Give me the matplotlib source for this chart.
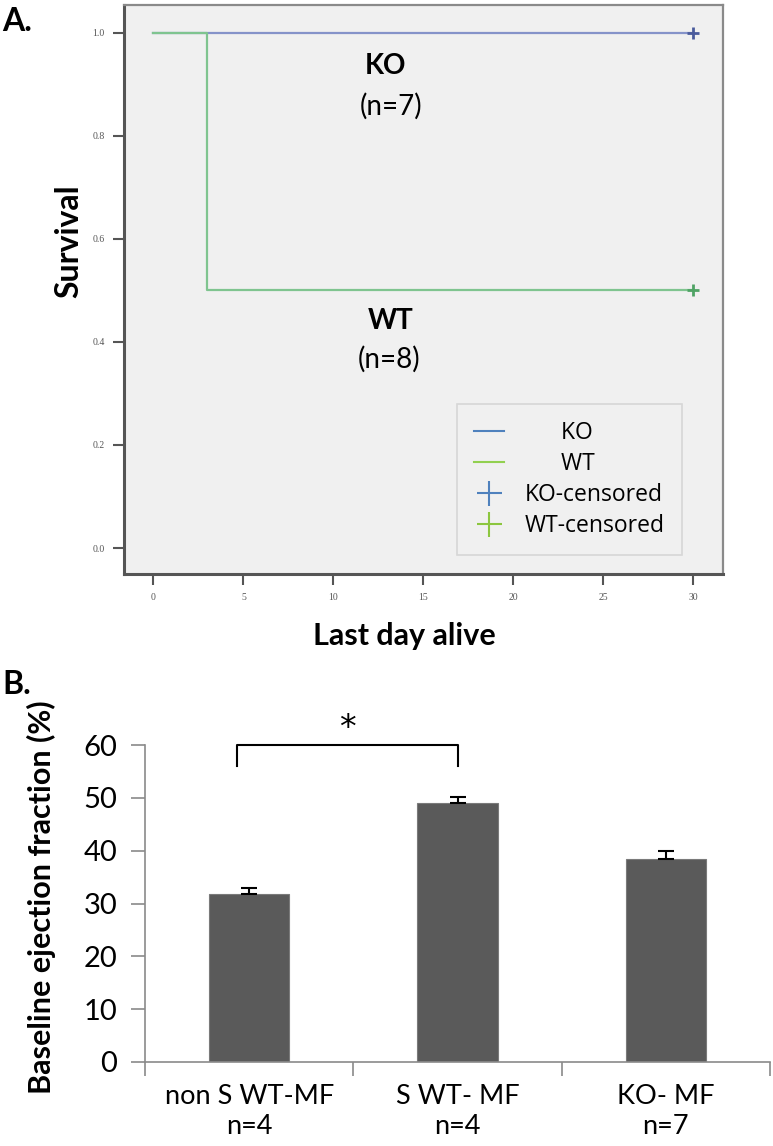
import matplotlib.pyplot as plt
from matplotlib.lines import Line2D

# Panel A: Kaplan-Meier survival
ko_days = [0, 30]
ko_surv = [1.0, 1.0]
wt_days = [0, 3, 30]
wt_surv = [1.0, 0.5, 0.5]
ko_cens_day, ko_cens_surv = [30], [1.0]
wt_cens_day, wt_cens_surv = [30], [0.5]
a_xticks = [0, 5, 10, 15, 20, 25, 30]
a_yticks = [0.0, 0.2, 0.4, 0.6, 0.8, 1.0]

# Panel B: baseline ejection fraction
groups = ['non S WT-MF\nn=4', 'S WT- MF\nn=4', 'KO- MF\nn=7']
ef_mean = [31.8, 49.0, 38.5]
ef_err = [1.1, 1.2, 1.5]
b_yticks = [0, 10, 20, 30, 40, 50, 60]

SANS = ['Lato', 'DejaVu Sans']
plt.rcParams['font.family'] = SANS

fig = plt.figure(figsize=(7.73, 11.46), dpi=100)

# ---------------- A ----------------
ax = fig.add_axes([0.1604, 0.4991, 0.7749, 0.4965])
ax.set_facecolor('#f0f0f0')
ko_line = '#8593c9'
wt_line = '#7fc48f'
ax.step(ko_days, ko_surv, where='post', color=ko_line, lw=1.6)
ax.step(wt_days, wt_surv, where='post', color=wt_line, lw=1.6)
ax.plot(ko_cens_day, ko_cens_surv, ls='none', marker='+', ms=8, mew=2, color='#4a5b9c')
ax.plot(wt_cens_day, wt_cens_surv, ls='none', marker='+', ms=8, mew=2, color='#4fa364')
ax.set_xlim(-1.64, 31.67)
ax.set_ylim(-0.0505, 1.054)
ax.set_xticks(a_xticks)
ax.set_yticks(a_yticks)
ax.set_xticklabels([str(t) for t in a_xticks], family='Liberation Serif', fontsize=7, color='#555555')
ax.set_yticklabels(['%.1f' % t for t in a_yticks], family='Liberation Serif', fontsize=7, color='#555555')
ax.tick_params(axis='both', length=8, width=1.5, color='#555555', pad=6)
for s in ['left', 'bottom']:
    ax.spines[s].set_color('#555555')
    ax.spines[s].set_linewidth(2.2)
for s in ['top', 'right']:
    ax.spines[s].set_color('#8a8a8a')
    ax.spines[s].set_linewidth(1.6)
ax.set_ylabel('Survival', fontsize=23, fontweight='bold')
ax.yaxis.set_label_coords(-0.068, 0.585)
ax.set_xlabel('Last day alive', fontsize=22, fontweight='bold')
ax.xaxis.set_label_coords(0.468, -0.084)

ax.text(12.9, 0.935, 'KO', fontsize=20, fontweight='bold', ha='center', va='center')
ax.text(13.2, 0.857, '(n=7)', fontsize=20, ha='center', va='center')
ax.text(13.2, 0.44, 'WT', fontsize=20, fontweight='bold', ha='center', va='center')
ax.text(13.1, 0.366, '(n=8)', fontsize=20, ha='center', va='center')

handles = [
    Line2D([], [], color='#4f81bd', lw=1.5),
    Line2D([], [], color='#92d050', lw=1.5),
    Line2D([], [], ls='none', marker='+', ms=18, mew=1.5, color='#4f81bd'),
    Line2D([], [], ls='none', marker='+', ms=18, mew=1.5, color='#8cc63f'),
]
labels = ['      KO', '      WT', 'KO-censored', 'WT-censored']
leg = ax.legend(handles, labels, loc='lower right', bbox_to_anchor=(0.9316, 0.0334),
                prop={'family': ['Open Sans', 'DejaVu Sans'], 'size': 16.5},
                frameon=True, fancybox=False, facecolor='#f0f0f0', edgecolor='#d0d0d0',
                handlelength=1.3, handletextpad=0.9, labelspacing=0.3,
                borderpad=0.75, borderaxespad=0)
leg.get_frame().set_linewidth(1.2)

fig.text(0.003, 0.981, 'A.', fontsize=23, fontweight='bold', va='center', ha='left')

# ---------------- B ----------------
bx = fig.add_axes([0.1876, 0.0733, 0.8085, 0.2766])
x = list(range(len(groups)))
bx.bar(x, ef_mean, width=0.385, color='#5a5a5a', edgecolor='#7a7a7a', linewidth=0.8, zorder=2)
bx.errorbar(x, ef_mean, yerr=[[0] * len(ef_err), ef_err], fmt='none', ecolor='black',
            elinewidth=1.5, capsize=6, capthick=1.5, zorder=3)
bx.set_xlim(-0.5, 2.5)
bx.set_ylim(0, 60)
bx.set_yticks(b_yticks)
bx.set_yticklabels([str(t) for t in b_yticks], fontsize=21)
bx.set_xticks([-0.5, 0.5, 1.5, 2.5])
bx.set_xticklabels([])
bx.set_xticks(x, minor=True)
bx.set_xticklabels(groups, minor=True, fontsize=19.5, linespacing=1.25)
bx.tick_params(axis='x', which='minor', length=0, pad=16)
bx.tick_params(axis='both', which='major', length=10, width=1.2, color='#8a8a8a')
bx.tick_params(axis='y', pad=10)
for s in ['top', 'right']:
    bx.spines[s].set_visible(False)
for s in ['left', 'bottom']:
    bx.spines[s].set_color('#8a8a8a')
    bx.spines[s].set_linewidth(1.2)
bx.set_ylabel('Baseline ejection fraction (%)', fontsize=22, fontweight='bold')
bx.yaxis.set_label_coords(-0.142, 0.52)

# significance bracket between first two groups
bx.plot([-0.06, -0.06, 1.0, 1.0], [56.0, 60.0, 60.0, 56.0], color='black', lw=1.5, clip_on=False)
bx.text(0.47, 63.2, '*', fontsize=24, ha='center', va='center', family='DejaVu Sans')

fig.text(0.003, 0.403, 'B.', fontsize=23, fontweight='bold', va='center', ha='left')

fig.savefig('out.png', dpi=100)
